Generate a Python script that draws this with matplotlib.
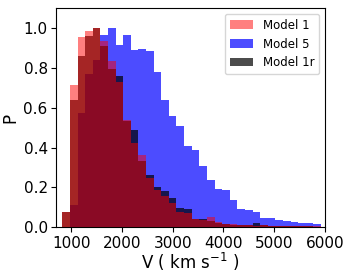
import numpy as np
import matplotlib
matplotlib.use("Agg")
import matplotlib.pyplot as plt

# bin edges (km/s) and normalised histogram heights
bin_start = 825
bin_width = 150
n_bins = 34

model1 = [0.078, 0.715, 0.953, 0.983, 1.0, 0.933, 0.833, 0.727, 0.539, 0.422,
          0.363, 0.246, 0.187, 0.155, 0.12, 0.075, 0.07, 0.04, 0.038, 0.05,
          0.025, 0.018, 0.015, 0.012, 0.01, 0.008, 0.01, 0.008, 0.007, 0.006,
          0.006, 0.005, 0.005, 0.004]
model5 = [0.0, 0.11, 0.573, 0.771, 0.837, 0.966, 1.0, 0.913, 0.966, 0.891,
          0.896, 0.883, 0.777, 0.640, 0.559, 0.506, 0.41, 0.389, 0.305, 0.238,
          0.192, 0.187, 0.137, 0.09, 0.087, 0.078, 0.048, 0.045, 0.037, 0.032,
          0.025, 0.023, 0.02, 0.015]
model1r = [0.075, 0.64, 0.858, 0.961, 1.0, 0.908, 0.794, 0.76, 0.535, 0.489,
           0.33, 0.263, 0.2, 0.18, 0.146, 0.095, 0.09, 0.04, 0.04, 0.03,
           0.02, 0.015, 0.012, 0.01, 0.012, 0.02, 0.01, 0.008, 0.006, 0.005,
           0.005, 0.004, 0.004, 0.003]

edges = bin_start + bin_width * np.arange(n_bins + 1)
centers = 0.5 * (edges[:-1] + edges[1:])

fig = plt.figure(figsize=(3.52, 2.75), dpi=100)
ax = fig.add_axes([0.159, 0.1735, 0.764, 0.7975])

ax.hist(centers, bins=edges, weights=model1, histtype='stepfilled',
        color='red', alpha=0.5, lw=1.0, label='Model 1', zorder=3)
ax.hist(centers, bins=edges, weights=model5, histtype='stepfilled',
        color='blue', alpha=0.7, lw=1.0, label='Model 5', zorder=1)
ax.hist(centers, bins=edges, weights=model1r, histtype='stepfilled',
        color='black', alpha=0.7, lw=1.0, label='Model 1r', zorder=2)

ax.set_xlim(700, 6000)
ax.set_ylim(0, 1.1)
ax.set_xticks([1000, 2000, 3000, 4000, 5000, 6000])
ax.set_yticks([0.0, 0.2, 0.4, 0.6, 0.8, 1.0])
ax.tick_params(labelsize=11, pad=2.5)
ax.set_xlabel(r'V ( km s$^{-1}$ )', fontsize=12, labelpad=0)
ax.set_ylabel('P', fontsize=12, labelpad=3)
ax.legend(loc='upper right', fontsize=8.5)

fig.savefig('out.png', dpi=100)
